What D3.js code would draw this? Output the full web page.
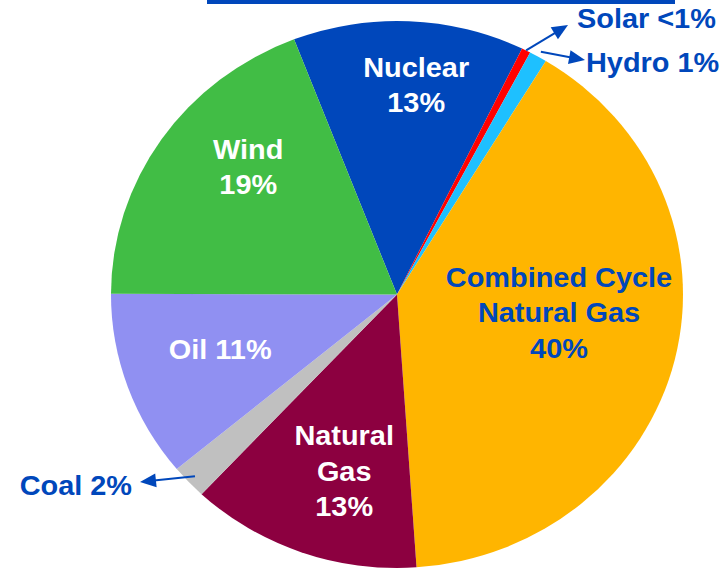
<!DOCTYPE html>
<meta charset="utf-8">
<html><head>
<title>Generation mix</title>
<script src="https://cdn.jsdelivr.net/npm/d3@7"></script>
<style>
  body { margin: 0; background: #fff; }
  text { font-family: "Liberation Sans", Arial, sans-serif; font-weight: bold; }
</style>
</head><body>
<script>

// values (percent)
var categories = ["Nuclear", "Solar", "Hydro", "Combined Cycle Natural Gas", "Natural Gas", "Coal", "Oil", "Wind"];
var values     = [13, 0.5, 1, 40, 13, 2, 11, 19];
var labelLines = [["Nuclear", "13%"], ["Solar <1%"], ["Hydro 1%"], ["Combined Cycle", "Natural Gas", "40%"],
                  ["Natural", "Gas", "13%"], ["Coal 2%"], ["Oil 11%"], ["Wind", "19%"]];
var colors     = ["#0047bb", "#ff0000", "#1ec0ff", "#ffb500", "#8c0040", "#c0c0c0", "#9090f2", "#41bd45"];

var width = 728, height = 570;
var cx = 397, cy = 294.5, rx = 286, ry = 273.5;
var blue = "#0047bb";
var fontSize = 27, stretch = 1.07;
var headLen = 16, headHalf = 7;

// label layout: inside labels by angle (deg) / radius fraction, outside ones by arrow end
var inside = {
  0: {a: 5, r: 0.77, color: "#fff"},
  3: {a: 96.5, r: 0.57, color: blue},
  4: {a: 196, r: 0.67, color: "#fff"},
  6: {a: 252, r: 0.65, color: "#fff"},
  7: {a: 312, r: 0.70, color: "#fff"}
};
var outside = {
  1: {r0: 1.0, tip: [568, 25], text: [577, 28], anchor: "start"},
  2: {r0: 1.02, tip: [585, 60], text: [586, 72], anchor: "start"},
  5: {r0: 0.97, tip: [140, 482], text: [132, 495], anchor: "end"}
};

var svg = d3.select("body").append("svg")
    .attr("width", width)
    .attr("height", height);

svg.append("rect")
    .attr("x", 207).attr("y", 0)
    .attr("width", 675 - 207).attr("height", 4)
    .attr("fill", blue);

var startAngle = -21.1 * Math.PI / 180;
var pie = d3.pie().sort(null).startAngle(startAngle).endAngle(startAngle + 2 * Math.PI);
var arcs = pie(values);
var arc = d3.arc().innerRadius(0).outerRadius(ry);

// pie is slightly wider than tall in the picture
var g = svg.append("g")
    .attr("transform", "translate(" + cx + "," + cy + ") scale(" + (rx / ry) + ",1)");

g.selectAll("path")
    .data(arcs)
    .enter().append("path")
    .attr("d", arc)
    .attr("fill", function(d, i) { return colors[i]; });

function polar(angleDeg, frac) {
  var a = angleDeg * Math.PI / 180;
  return [cx + rx * frac * Math.sin(a), cy - ry * frac * Math.cos(a)];
}

// text drawn a little wide, like the source
function label(x, y, anchor, color) {
  return svg.append("text")
      .attr("transform", "translate(" + x + "," + y + ") scale(" + stretch + ",1)")
      .attr("text-anchor", anchor)
      .attr("font-size", fontSize)
      .attr("fill", color);
}

function arrow(from, to) {
  var dx = to[0] - from[0], dy = to[1] - from[1];
  var len = Math.sqrt(dx * dx + dy * dy);
  var ux = dx / len, uy = dy / len;
  var bx = to[0] - ux * headLen, by = to[1] - uy * headLen;
  svg.append("line")
      .attr("x1", from[0]).attr("y1", from[1])
      .attr("x2", bx + ux * 2).attr("y2", by + uy * 2)
      .attr("stroke", blue)
      .attr("stroke-width", 2);
  svg.append("path")
      .attr("d", "M" + to[0] + "," + to[1] +
                 "L" + (bx - uy * headHalf) + "," + (by + ux * headHalf) +
                 "L" + (bx + uy * headHalf) + "," + (by - ux * headHalf) + "Z")
      .attr("fill", blue);
}

var lineH = 35.5;
arcs.forEach(function(d, i) {
  if (inside[i]) {
    var p = polar(inside[i].a, inside[i].r);
    var lines = labelLines[i];
    var t = label(p[0], p[1], "middle", inside[i].color);
    lines.forEach(function(s, k) {
      t.append("tspan")
          .attr("x", 0)
          .attr("y", 10 + (k - (lines.length - 1) / 2) * lineH)
          .text(s);
    });
  } else if (outside[i]) {
    var o = outside[i];
    var mid = (d.startAngle + d.endAngle) / 2 * 180 / Math.PI;
    arrow(polar(mid, o.r0), o.tip);
    label(o.text[0], o.text[1], o.anchor, blue).text(labelLines[i][0]);
  }
});

</script>
</body>
</html>
